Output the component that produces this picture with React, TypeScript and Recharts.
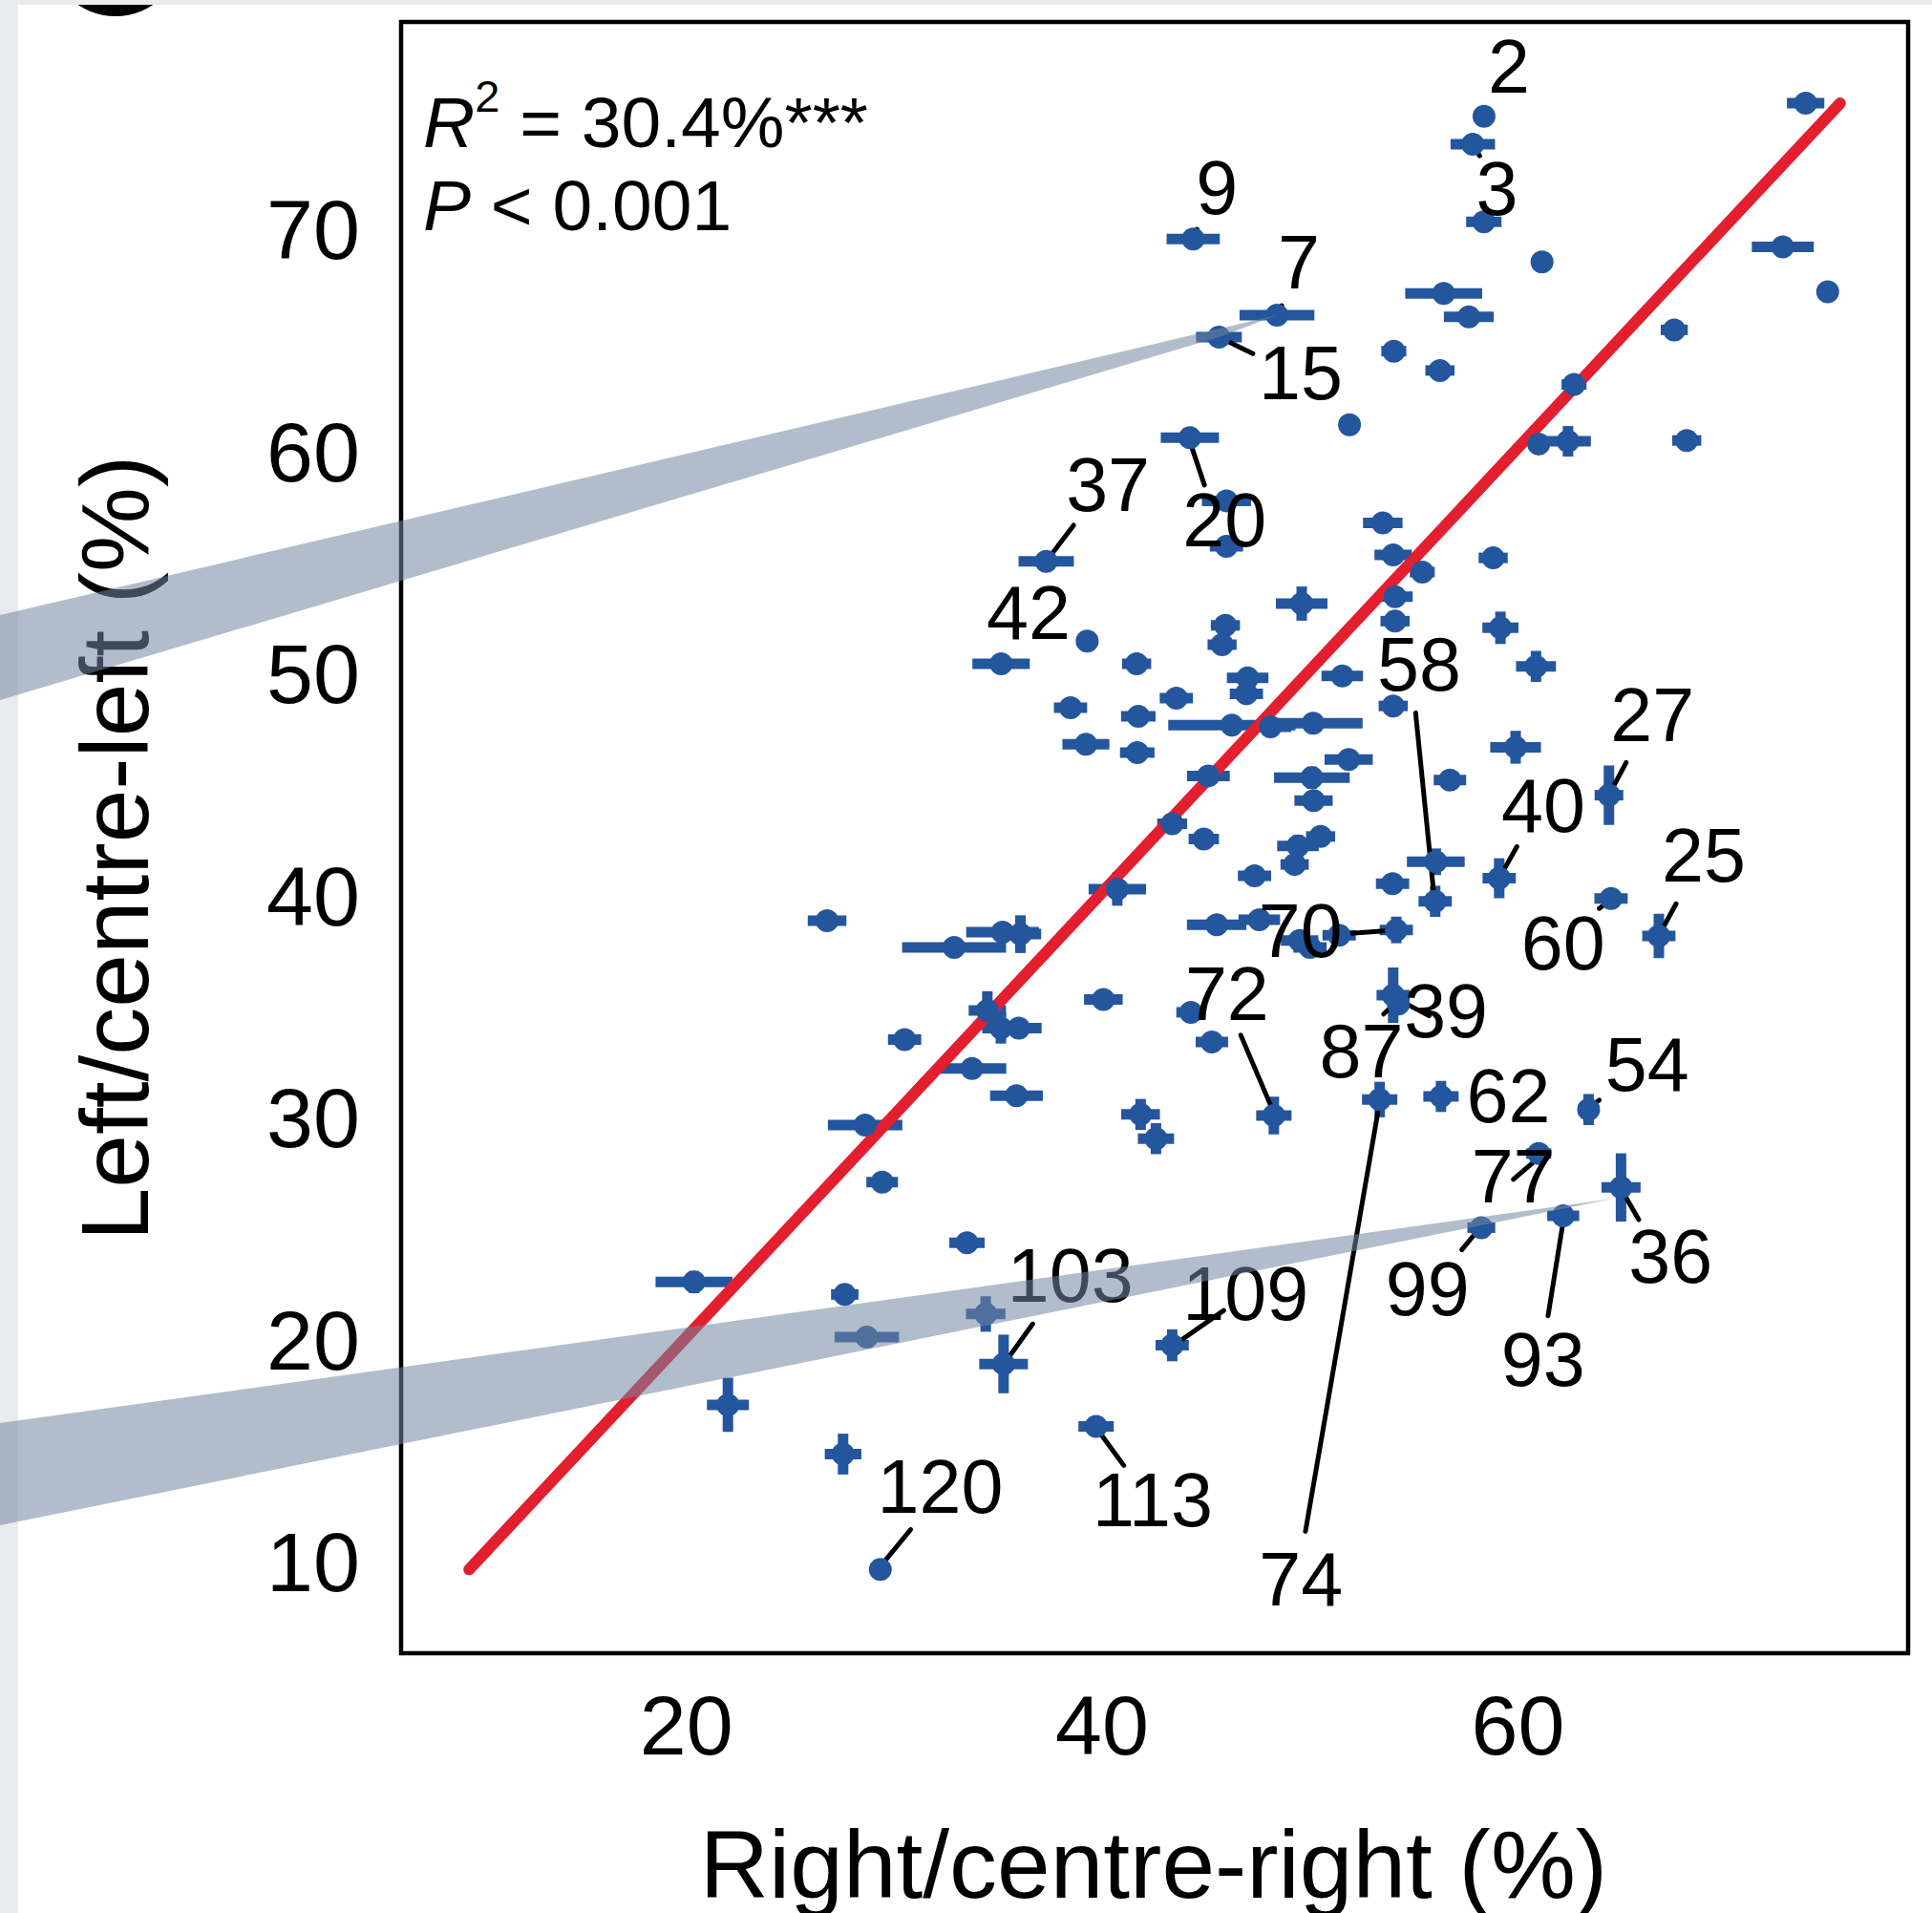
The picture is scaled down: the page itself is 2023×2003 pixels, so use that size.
import React from "react";
import {
  ScatterChart,
  Scatter,
  XAxis,
  YAxis,
  ErrorBar,
  ReferenceLine,
  ReferenceArea,
} from "recharts";

// ---------- data ----------
// each point: right/centre-right %, left/centre-left %, x error half-width, y error half-width
const ptX = [
  58.37, 57.83, 58.36, 61.16, 56.43, 57.64, 56.25, 73.84, 72.74, 74.9, 67.52, 62.7, 61.0, 62.41, 68.12,
  44.38, 48.41, 45.62, 54.03, 51.9, 44.22, 45.98, 45.98, 37.31, 53.5, 54.0, 55.4, 58.81, 49.6, 54.09,
  54.09, 59.16, 60.87, 35.14, 39.28, 41.66, 45.93, 45.77, 47.0, 46.94, 51.55, 54.0, 38.48, 43.57, 41.74,
  39.22, 41.69, 46.24, 48.1, 50.15, 51.86, 50.09, 50.17, 45.11, 56.73, 59.89, 64.38, 43.37, 44.89, 50.51,
  49.42, 49.26, 47.33, 40.73, 53.97, 56.05, 59.1, 56.02, 64.48, 66.78, 26.77, 32.88, 35.21, 36.07, 45.51,
  47.56, 49.5, 50.0, 51.4, 54.15, 54.0, 54.25, 40.06, 44.27, 45.28, 34.48, 35.13, 35.99, 30.5, 33.74,
  35.88, 28.6, 29.42, 41.85, 42.59, 48.26, 53.35, 56.3, 63.4, 61.0, 64.96, 62.18, 58.24, 33.5, 34.4,
  35.26, 43.37, 39.71, 20.37, 27.62, 28.68, 22.0, 27.54, 29.33,
];
const ptY = [
  75.09, 73.83, 70.34, 68.53, 67.11, 66.06, 63.64, 75.68, 69.21, 67.19, 65.47, 63.01, 60.33, 60.45, 60.49,
  69.56, 66.13, 65.14, 64.51, 61.2, 60.61, 57.77, 55.72, 55.04, 56.78, 55.33, 54.56, 55.2, 53.14, 53.45,
  52.35, 52.05, 50.31, 50.43, 51.45, 50.43, 52.16, 51.29, 49.79, 49.08, 49.88, 48.53, 48.45, 48.88, 48.06,
  46.8, 46.43, 47.67, 47.59, 47.75, 46.12, 45.3, 44.27, 45.38, 45.19, 46.67, 44.51, 43.22, 42.54, 42.65,
  42.22, 41.39, 40.88, 40.28, 40.52, 41.51, 40.77, 39.73, 39.86, 38.17, 38.86, 37.65, 38.34, 38.25, 38.67,
  38.9, 37.96, 37.65, 38.2, 38.44, 35.5, 35.1, 35.31, 34.73, 33.39, 34.81, 34.02, 34.02, 33.5, 32.2,
  30.97, 29.65, 27.08, 30.13, 29.04, 30.08, 30.8, 30.94, 30.35, 28.37, 26.84, 25.56, 25.03, 24.35, 21.14,
  18.89, 19.73, 16.08, 22.58, 22.02, 20.1, 17.05, 14.83, 9.63,
];
const errX = [
  0.5, 1.07, 0.85, 0.45, 1.85, 1.2, 0.7, 0.9, 1.49, 0, 0.65, 0.6, 0, 1.1, 0.7,
  1.28, 1.8, 1.1, 0.6, 0.5, 1.4, 1.18, 0.8, 1.33, 0.95, 0.9, 0.6, 0.7, 1.24, 0.85,
  0.7, 0.87, 0.96, 1.38, 0.5, 0.7, 0.7, 0.7, 1.0, 0.8, 1.0, 0.7, 0.8, 0.8, 0.83,
  1.13, 0.83, 3.06, 1.0, 2.38, 1.16, 1.82, 0.92, 1.03, 0.78, 1.22, 0.69, 0.72, 0.73, 0.7,
  1.0, 0.68, 0.8, 1.38, 0.8, 1.39, 0.8, 0.8, 0.8, 0.8, 0.93, 2.5, 1.75, 1.0, 1.43,
  1.0, 0.9, 0.8, 0.8, 0.8, 0.8, 0.5, 0.93, 0.7, 0.78, 0.9, 0.9, 1.1, 0.8, 1.65,
  1.27, 1.79, 0.76, 0.93, 0.87, 0.85, 0.85, 0.85, 0.5, 0.6, 0.94, 0.77, 0.67, 0.85, 0.95,
  1.17, 0.8, 0.85, 1.85, 0.66, 1.55, 1.01, 0.88, 0,
];
const errY = [
  0, 0, 0, 0, 0, 0, 0, 0, 0, 0, 0, 0, 0, 0.69, 0,
  0, 0, 0, 0, 0, 0, 0, 0, 0, 0, 0, 0, 0, 0.77, 0,
  0, 0.73, 0.7, 0, 0, 0, 0, 0, 0, 0, 0, 0, 0, 0, 0,
  0, 0, 0, 0, 0, 0, 0.5, 0, 0, 0, 0.74, 1.34, 0, 0, 0,
  0.5, 0, 0, 0.75, 0, 0.6, 0.9, 0.7, 0, 1.0, 0, 0, 0, 0.85, 0,
  0, 0, 0, 0, 0.6, 1.25, 0, 0, 0, 0, 0.87, 0.7, 0, 0, 0,
  0, 0, 0, 0.7, 0.7, 0.85, 0.8, 0.7, 0.7, 0, 1.54, 0, 0, 0, 0.8,
  1.32, 0.72, 0, 0.5, 0, 0, 1.22, 0.92, 0,
];

// fitted line (y = x over the observed range)
const fitX = [9.55, 75.5];
const fitY = [9.63, 75.68];

// country labels: id, label centre, leader line (from -> to)
const labelIds = ["2", "3", "9", "7", "15", "20", "37", "42", "58", "27", "40", "25", "60", "70", "72", "87", "39", "74", "62", "54", "77", "36", "93", "99", "103", "109", "113", "120"];
const labelX = [59.57, 58.99, 45.52, 49.46, 49.55, 45.89, 40.28, 36.46, 55.25, 66.47, 61.22, 68.94, 62.17, 49.54, 46.01, 52.47, 56.54, 49.56, 59.54, 66.22, 59.78, 67.34, 61.21, 55.65, 38.47, 46.9, 42.43, 32.21];
const labelY = [77.37, 71.85, 71.93, 68.54, 63.57, 56.94, 58.52, 52.75, 50.43, 48.18, 44.08, 41.83, 37.89, 38.44, 35.6, 33.0, 34.81, 9.22, 30.98, 32.4, 27.4, 23.79, 19.13, 22.32, 22.91, 22.1, 12.79, 13.4];
const leadFromX = [58.37, 57.83, 44.56, 48.64, 45.62, 44.22, 37.31, 35.14, 55.08, 65.21, 59.95, 67.61, 63.91, 51.83, 46.67, 53.54, 55.73, 49.78, 56.3, 63.91, 59.78, 65.05, 62.18, 58.08, 36.66, 45.85, 39.79, 29.38];
const leadFromY = [75.09, 73.83, 70.0, 66.56, 65.14, 60.45, 55.04, 50.43, 48.22, 45.98, 42.19, 39.62, 39.41, 38.28, 33.7, 34.65, 34.57, 11.35, 30.94, 30.77, 27.2, 26.64, 25.32, 24.92, 20.69, 21.3, 15.92, 9.82];
const leadToX = [58.45, 58.16, 44.38, 48.41, 47.25, 44.92, 38.63, 35.25, 55.97, 64.48, 59.21, 66.88, 64.32, 54.16, 48.22, 54.16, 54.29, 53.35, 56.55, 63.4, 61.32, 65.81, 61.45, 57.3, 35.34, 43.57, 41.04, 30.79];
const leadToY = [75.25, 73.31, 69.76, 66.13, 64.4, 58.48, 56.67, 50.6, 39.93, 44.71, 40.96, 38.36, 39.7, 38.44, 30.29, 35.2, 35.28, 30.69, 30.85, 30.45, 28.44, 25.39, 21.06, 24.03, 18.97, 19.81, 14.32, 11.43];

const xTicks = [20, 40, 60];
const yTicks = [10, 20, 30, 40, 50, 60, 70];

// ---------- layout / style ----------
const W = 2023;
const H = 2003;
const X_DOMAIN = [6.28, 78.77];
const Y_DOMAIN = [5.86, 79.34];
const PLOT = { left: 420, top: 23, right: 1998, bottom: 1731 };
const BLUE = "#24569e";
const RED = "#e31f2f";
const FONT = '"Liberation Sans", Arial, Helvetica, sans-serif';
const LABEL_SIZE = 79;

const points = ptX.map((x, i) => ({ x, y: ptY[i], ex: errX[i], ey: errY[i] }));
const fitData = fitX.map((x, i) => ({ x, y: fitY[i] }));
const labelData = labelIds.map((id, i) => ({ id, x: labelX[i], y: labelY[i] }));

// decorative callout wedges (apex at data coordinates, base at the page edge)
const toPx = (x: number, y: number) => [
  PLOT.left + ((x - X_DOMAIN[0]) / (X_DOMAIN[1] - X_DOMAIN[0])) * (PLOT.right - PLOT.left),
  PLOT.top + ((Y_DOMAIN[1] - y) / (Y_DOMAIN[1] - Y_DOMAIN[0])) * (PLOT.bottom - PLOT.top),
];

const Dot = (p: any) => <circle cx={p.cx} cy={p.cy} r={12} fill={BLUE} />;
const NoShape = () => <g />;
const LabelText = (p: any) => (
  <text
    x={p.cx}
    y={p.cy + LABEL_SIZE * 0.358}
    textAnchor="middle"
    fontSize={LABEL_SIZE}
    fontFamily={FONT}
    fill="#000"
  >
    {p.payload.id}
  </text>
);

export default function App() {
  const [a7x, a7y] = toPx(48.41, 66.13);
  const [a15x, a15y] = toPx(45.62, 65.14);
  const [a36x, a36y] = toPx(64.53, 26.33);
  return (
    <div
      style={{
        position: "absolute",
        left: 0,
        top: 0,
        width: W,
        height: H,
        background: "#e9ebee",
        overflow: "hidden",
      }}
    >
      <svg width={W} height={H} style={{ position: "absolute", left: 0, top: 0 }}>
        <rect x={19} y={5} width={W - 19} height={H - 5} fill="#ffffff" />
        <clipPath id="whiteClip">
          <rect x={19} y={5} width={W - 19} height={H - 5} />
        </clipPath>
        <circle cx={121} cy={-53} r={70} fill="#000" clipPath="url(#whiteClip)" />
        {/* stats annotation */}
        <text x={443} y={154} fontSize={75} fontFamily={FONT} fill="#000">
          <tspan fontStyle="italic">R</tspan>
          <tspan fontSize={47} dy={-37}>2</tspan>
          <tspan dy={37}> = 30.4%***</tspan>
        </text>
        <text x={443} y={241} fontSize={75} fontFamily={FONT} fill="#000">
          <tspan fontStyle="italic">P</tspan>
          <tspan> &lt; 0.001</tspan>
        </text>
        {/* axis titles */}
        <text x={1208} y={1987} fontSize={100} fontFamily={FONT} textAnchor="middle" fill="#000">
          Right/centre-right (%)
        </text>
        <text
          x={155}
          y={888}
          fontSize={100}
          fontFamily={FONT}
          textAnchor="middle"
          fill="#000"
          transform="rotate(-90 155 888)"
        >
          Left/centre-left (%)
        </text>
      </svg>

      <div style={{ position: "absolute", left: 0, top: 0 }}>
        <ScatterChart
          width={W}
          height={H}
          margin={{ top: PLOT.top, right: W - PLOT.right, bottom: 92, left: 120 }}
        >
          <XAxis
            type="number"
            dataKey="x"
            domain={X_DOMAIN}
            ticks={xTicks}
            allowDataOverflow
            height={180}
            axisLine={false}
            tickLine={false}
            tickSize={0}
            tickMargin={44}
            tick={{ fontSize: 88, fill: "#000", fontFamily: FONT }}
          />
          <YAxis
            type="number"
            dataKey="y"
            domain={Y_DOMAIN}
            ticks={yTicks}
            allowDataOverflow
            width={300}
            axisLine={false}
            tickLine={false}
            tickSize={0}
            tickMargin={43}
            tick={{ fontSize: 88, fill: "#000", fontFamily: FONT }}
          />
          <Scatter
            data={fitData}
            fill="none"
            shape={NoShape}
            line={{ stroke: RED, strokeWidth: 12, strokeLinecap: "round" }}
            isAnimationActive={false}
          />
          <Scatter data={points} fill={BLUE} shape={Dot} isAnimationActive={false}>
            <ErrorBar dataKey="ex" direction="x" width={0} strokeWidth={11} stroke={BLUE} isAnimationActive={false} />
            <ErrorBar dataKey="ey" direction="y" width={0} strokeWidth={11} stroke={BLUE} isAnimationActive={false} />
          </Scatter>
          {labelIds.map((id, i) => (
            <ReferenceLine
              key={"lead" + id}
              segment={[
                { x: leadFromX[i], y: leadFromY[i] },
                { x: leadToX[i], y: leadToY[i] },
              ]}
              stroke="#000"
              strokeWidth={5}
              strokeLinecap="round"
            />
          ))}
          <Scatter data={labelData} shape={LabelText} isAnimationActive={false} />
          <ReferenceArea
            x1={X_DOMAIN[0]}
            x2={X_DOMAIN[1]}
            y1={Y_DOMAIN[0]}
            y2={Y_DOMAIN[1]}
            fill="none"
            stroke="#000"
            strokeWidth={4.5}
            ifOverflow="visible"
          />
        </ScatterChart>
      </div>

      <svg
        width={W}
        height={H}
        style={{ position: "absolute", left: 0, top: 0, pointerEvents: "none" }}
      >
        <polygon
          points={`0,644 ${a7x},${a7y} ${a15x},${a15y} 0,733`}
          fill="rgb(115,135,160)"
          fillOpacity={0.55}
        />
        <polygon
          points={`0,1490 ${a36x},${a36y} 0,1597`}
          fill="rgb(115,135,160)"
          fillOpacity={0.55}
        />
      </svg>
    </div>
  );
}
